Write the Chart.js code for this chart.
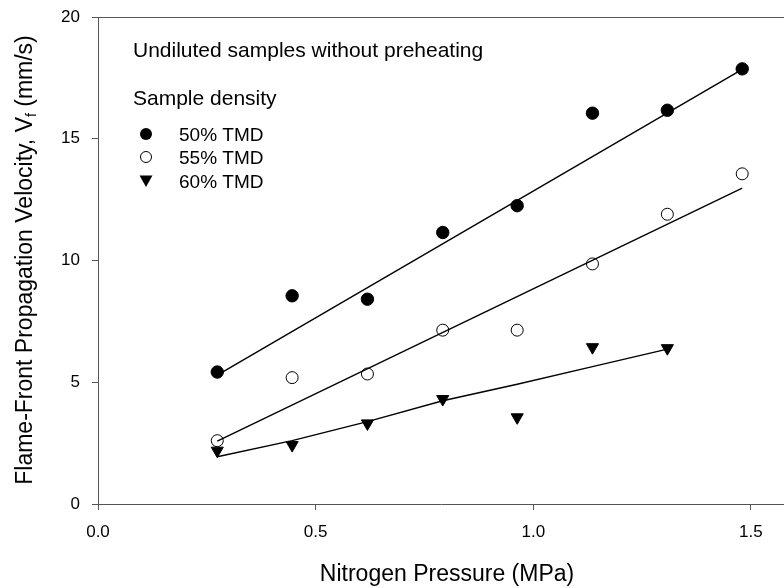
<!DOCTYPE html>
<html>
<head>
<meta charset="utf-8">
<script src="https://cdn.jsdelivr.net/npm/chart.js@4/dist/chart.umd.min.js"></script>
<style>
  body { margin: 0; background: #fff; }
  canvas { display: block; }
</style>
</head>
<body>
<canvas id="chart" width="784" height="588"></canvas>
<script>
const FONT = "'Liberation Sans', Arial, sans-serif";

// nitrogen pressure (MPa)
const pressure = [0.274, 0.446, 0.619, 0.792, 0.963, 1.136, 1.308, 1.480];
const pressure60 = [0.274, 0.446, 0.619, 0.792, 0.963, 1.136, 1.308];

// flame-front velocity (mm/s)
const vel50 = [5.42, 8.55, 8.41, 11.15, 12.25, 16.05, 16.17, 17.87];
const vel55 = [2.60, 5.19, 5.34, 7.14, 7.14, 9.86, 11.90, 13.56];
const vel60 = [2.19, 2.42, 3.31, 4.31, 3.56, 6.44, 6.40];

// fitted lines
const fit50x = [0.274, 1.480];
const fit50y = [5.29, 17.85];
const fit55x = [0.274, 1.480];
const fit55y = [2.58, 12.97];
const fit60x = [0.274, 0.446, 0.619, 0.792, 0.963, 1.136, 1.308];
const fit60y = [1.94, 2.60, 3.38, 4.24, 4.92, 5.64, 6.36];

const seriesLabels = ['50% TMD', '55% TMD', '60% TMD'];
const xTicks = [0.0, 0.5, 1.0, 1.5];
const yTicks = [0, 5, 10, 15, 20];

function pts(xs, ys) {
  return xs.map((x, i) => ({ x: x, y: ys[i] }));
}

function fitLine(xs, ys) {
  return {
    type: 'line',
    data: pts(xs, ys),
    borderColor: '#000',
    borderWidth: 1.4,
    pointRadius: 0,
    fill: false,
    tension: 0,
    order: 2
  };
}

// draws the marker shapes used in the key
function drawMarker(ctx, kind, x, y) {
  ctx.save();
  ctx.strokeStyle = '#000';
  ctx.fillStyle = '#000';
  ctx.lineWidth = 1;
  if (kind === 0) {
    ctx.beginPath();
    ctx.arc(x, y, 6, 0, Math.PI * 2);
    ctx.fill();
  } else if (kind === 1) {
    ctx.beginPath();
    ctx.arc(x, y, 5.5, 0, Math.PI * 2);
    ctx.stroke();
  } else {
    ctx.beginPath();
    ctx.moveTo(x - 6.5, y - 5.5);
    ctx.lineTo(x + 6.5, y - 5.5);
    ctx.lineTo(x, y + 6);
    ctx.closePath();
    ctx.fill();
  }
  ctx.restore();
}

const textPlugin = {
  id: 'texts',
  afterDraw(chart) {
    const ctx = chart.ctx;
    const a = chart.chartArea;
    ctx.save();

    // top frame line
    ctx.strokeStyle = '#555';
    ctx.lineWidth = 1;
    ctx.beginPath();
    ctx.moveTo(a.left, a.top + 0.5);
    ctx.lineTo(chart.width, a.top + 0.5);
    ctx.stroke();

    ctx.fillStyle = '#000';
    ctx.textBaseline = 'alphabetic';
    ctx.textAlign = 'left';
    ctx.font = '21px ' + FONT;
    ctx.fillText('Undiluted samples without preheating', 133, 57);
    ctx.fillText('Sample density', 133, 105);

    ctx.font = '19px ' + FONT;
    const rows = [141, 164, 188];
    seriesLabels.forEach((lab, i) => {
      drawMarker(ctx, i, 146, rows[i] - 7);
      ctx.fillText(lab, 179, rows[i]);
    });

    // x axis title
    ctx.font = '23px ' + FONT;
    ctx.textAlign = 'center';
    ctx.fillText('Nitrogen Pressure (MPa)', 447, 581);

    // y axis title with subscript
    ctx.translate(32, 260);
    ctx.rotate(-Math.PI / 2);
    ctx.textAlign = 'left';
    const p1 = 'Flame-Front Propagation Velocity, V';
    const p2 = 'f';
    const p3 = ' (mm/s)';
    ctx.font = '23px ' + FONT;
    const w1 = ctx.measureText(p1).width;
    const w3 = ctx.measureText(p3).width;
    ctx.font = '14px ' + FONT;
    const w2 = ctx.measureText(p2).width;
    const start = -(w1 + w2 + w3) / 2;
    ctx.font = '23px ' + FONT;
    ctx.fillText(p1, start, 0);
    ctx.font = '14px ' + FONT;
    ctx.fillText(p2, start + w1, 4);
    ctx.font = '23px ' + FONT;
    ctx.fillText(p3, start + w1 + w2, 0);

    ctx.restore();
  }
};

new Chart(document.getElementById('chart'), {
  type: 'scatter',
  data: {
    datasets: [
      {
        label: seriesLabels[0],
        data: pts(pressure, vel50),
        pointStyle: 'circle',
        pointRadius: 6.2,
        pointBackgroundColor: '#000',
        pointBorderColor: '#000',
        pointBorderWidth: 1,
        order: 1
      },
      {
        label: seriesLabels[1],
        data: pts(pressure, vel55),
        pointStyle: 'circle',
        pointRadius: 6,
        pointBackgroundColor: 'rgba(255,255,255,0)',
        pointBorderColor: '#000',
        pointBorderWidth: 1,
        order: 1
      },
      {
        label: seriesLabels[2],
        data: pts(pressure60, vel60),
        pointStyle: 'triangle',
        rotation: 180,
        pointRadius: 7,
        pointBackgroundColor: '#000',
        pointBorderColor: '#000',
        pointBorderWidth: 1,
        order: 1
      },
      fitLine(fit50x, fit50y),
      fitLine(fit55x, fit55y),
      fitLine(fit60x, fit60y)
    ]
  },
  options: {
    responsive: false,
    animation: false,
    devicePixelRatio: 1,
    layout: { autoPadding: false, padding: { top: 17, right: 0, left: 0, bottom: 0 } },
    plugins: {
      legend: { display: false },
      tooltip: { enabled: false }
    },
    scales: {
      x: {
        type: 'linear',
        min: 0,
        max: 1.576,
        afterBuildTicks: s => { s.ticks = xTicks.map(v => ({ value: v })); },
        afterFit: s => {
          s.height = 84;
          s.paddingLeft = 0;
          s.paddingRight = 0;
        },
        ticks: {
          color: '#000',
          padding: 12,
          font: { family: FONT, size: 17 },
          callback: v => Number(v).toFixed(1)
        },
        grid: { drawOnChartArea: false, drawTicks: true, tickLength: 6, color: '#555' },
        border: { display: true, color: '#555', width: 1 }
      },
      y: {
        type: 'linear',
        min: 0,
        max: 20,
        afterBuildTicks: s => { s.ticks = yTicks.map(v => ({ value: v })); },
        afterFit: s => {
          s.width = 98;
          s.paddingTop = 0;
          s.paddingBottom = 0;
        },
        ticks: {
          color: '#000',
          padding: 12,
          font: { family: FONT, size: 17 }
        },
        grid: { drawOnChartArea: false, drawTicks: true, tickLength: 6, color: '#555' },
        border: { display: true, color: '#555', width: 1 }
      }
    }
  },
  plugins: [textPlugin]
});
</script>
</body>
</html>
